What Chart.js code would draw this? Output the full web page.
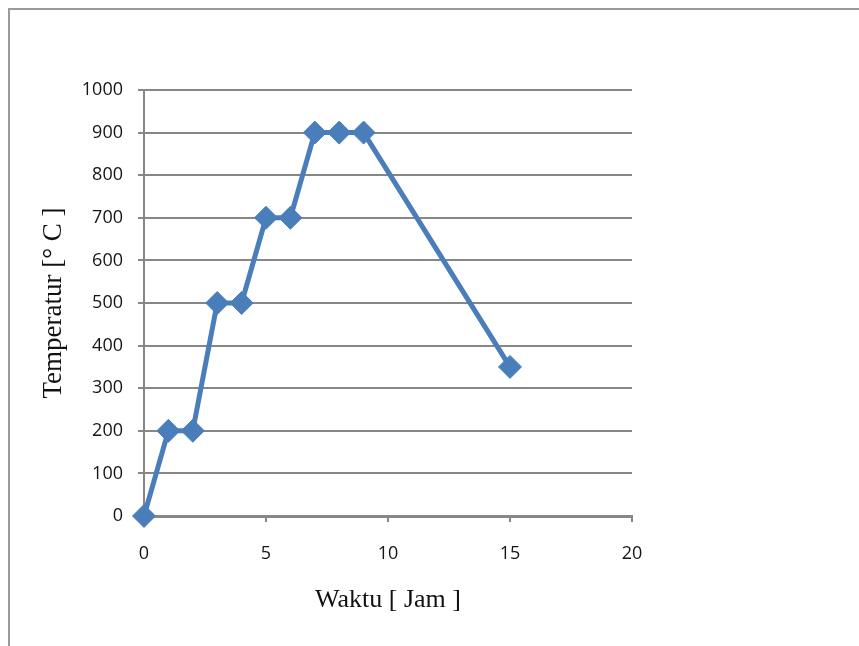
<!DOCTYPE html>
<html>
<head>
<meta charset="utf-8">
<script src="https://cdn.jsdelivr.net/npm/chart.js"></script>
<style>
  html, body { margin: 0; padding: 0; background: #fff; }
  #wrap { width: 859px; height: 646px; }
</style>
</head>
<body>
<div id="wrap"><canvas id="graph"></canvas></div>
<script>
// data
const waktu = [0, 1, 2, 3, 4, 5, 6, 7, 8, 9, 15];
const temperatur = [0, 200, 200, 500, 500, 700, 700, 900, 900, 900, 350];
const xTicks = [0, 5, 10, 15, 20];
const yTicks = [0, 100, 200, 300, 400, 500, 600, 700, 800, 900, 1000];

const blue = "#4a7ebb";
const grey = "#878787";

// gray frame on the left and top like the scanned page
const frame = {
    id: "frame",
    beforeDraw(chart)
    {
        const ctx = chart.ctx;
        ctx.save();
        ctx.strokeStyle = "#9a9a9a";
        ctx.lineWidth = 2;
        ctx.beginPath();
        ctx.moveTo(9, 646);
        ctx.lineTo(9, 9);
        ctx.lineTo(859, 9);
        ctx.stroke();
        ctx.restore();
    }
};

const points = waktu.map((x, i) => ({ x: x, y: temperatur[i] }));

new Chart(document.getElementById("graph"), {
    type: "line",
    data: {
        datasets: [
            {
                data: points,
                borderColor: blue,
                backgroundColor: blue,
                borderWidth: 5,
                pointStyle: "rectRot",
                pointRadius: 11.5,
                pointBorderWidth: 1,
                pointBorderColor: blue,
                pointBackgroundColor: blue,
                tension: 0,
                clip: false
            }
        ]
    },
    options: {
        responsive: true,
        maintainAspectRatio: false,
        animation: false,
        layout: { padding: { left: 0, right: 227, top: 90, bottom: 30 } },
        plugins: {
            legend: { display: false },
            tooltip: { enabled: false }
        },
        scales: {
            x: {
                type: "linear",
                min: 0,
                max: 20,
                afterBuildTicks: (scale) => { scale.ticks = xTicks.map(v => ({ value: v })); },
                afterFit: (scale) => { scale.height = 100; },
                grid: { drawOnChartArea: false, drawTicks: true, tickLength: 6, color: grey, lineWidth: 2 },
                border: { display: true, color: grey, width: 3 },
                ticks: {
                    color: "#151515",
                    padding: 21,
                    font: { family: "Open Sans", size: 18 },
                    callback: (v) => String(v)
                },
                title: {
                    display: true,
                    text: "Waktu [ Jam ]",
                    color: "#111",
                    padding: { top: 0, bottom: 0 },
                    font: { family: "Liberation Serif", size: 26 }
                }
            },
            y: {
                min: 0,
                max: 1000,
                afterBuildTicks: (scale) => { scale.ticks = yTicks.map(v => ({ value: v })); },
                afterFit: (scale) => { scale.width = 144; },
                grid: { color: grey, lineWidth: 2, tickLength: 6 },
                border: { display: true, color: grey, width: 2 },
                ticks: {
                    color: "#151515",
                    padding: 15,
                    font: { family: "Open Sans", size: 18 },
                    callback: (v) => String(v)
                },
                title: {
                    display: true,
                    text: "Temperatur [° C ]",
                    color: "#111",
                    padding: { top: 38, bottom: 0 },
                    font: { family: "Liberation Serif", size: 27 }
                }
            }
        }
    },
    plugins: [frame]
});
</script>
</body>
</html>
